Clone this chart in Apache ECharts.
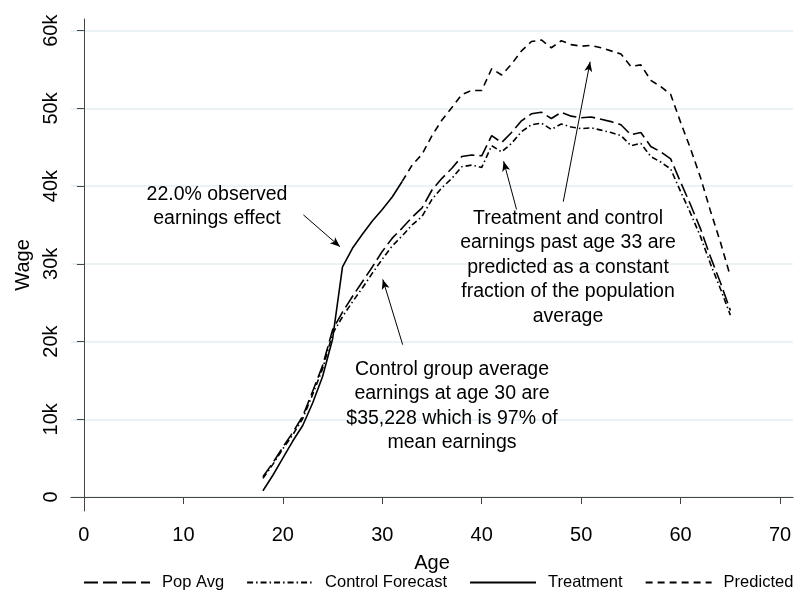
<!DOCTYPE html>
<html>
<head>
<meta charset="utf-8">
<script src="https://cdn.jsdelivr.net/npm/echarts@6/dist/echarts.min.js"></script>
<style>
  html, body { margin: 0; padding: 0; background: #fff; }
  #chart { width: 798px; height: 590px; }
</style>
</head>
<body>
<div id="chart"></div>
<script>
// ages on the x axis
const ages = [18, 19, 20, 21, 22, 23, 24, 25, 26, 27, 28, 29, 30, 31, 32, 33,
  34, 35, 36, 37, 38, 39, 40, 41, 42, 43, 44, 45, 46, 47, 48, 49, 50, 51, 52,
  53, 54, 55, 56, 57, 58, 59, 60, 61, 62, 63, 64, 65];

// wages in thousands
const popAvg = [2.6, 4.4, 6.4, 8.3, 10.4, 13.6, 16.9, 21.5, 23.8, 25.8, 27.7,
  29.6, 31.6, 33.3, 34.6, 36.0, 37.2, 39.5, 41.0, 42.3, 43.8, 44.0, 43.9, 46.5,
  45.6, 46.9, 48.4, 49.3, 49.5, 48.7, 49.5, 49.0, 48.8, 48.9, 48.6, 48.3, 47.9,
  46.6, 46.9, 45.1, 44.4, 43.5, 40.5, 37.6, 34.5, 30.9, 27.6, 24.0];

const controlForecast = [2.4, 4.2, 6.2, 8.0, 10.1, 13.2, 16.5, 21.0, 23.2, 25.1,
  26.9, 28.8, 30.6, 32.3, 33.6, 35.0, 36.1, 38.3, 39.8, 41.0, 42.5, 42.7, 42.4,
  45.2, 44.4, 45.5, 47.0, 47.9, 48.1, 47.3, 48.0, 47.6, 47.4, 47.5, 47.2, 46.9,
  46.5, 45.2, 45.5, 43.8, 43.1, 42.2, 39.3, 36.5, 33.5, 30.0, 26.8, 23.4];

// treatment observed ages 18-32
const treatmentAges = [18, 19, 20, 21, 22, 23, 24, 25, 26, 27, 28, 29, 30, 31, 32];
const treatment = [0.8, 2.8, 5.0, 7.2, 9.2, 12.1, 15.5, 20.3, 29.6, 32.0, 33.8,
  35.5, 37.0, 38.6, 40.6];

// predicted ages 32-65
const predictedAges = [32, 33, 34, 35, 36, 37, 38, 39, 40, 41, 42, 43, 44, 45,
  46, 47, 48, 49, 50, 51, 52, 53, 54, 55, 56, 57, 58, 59, 60, 61, 62, 63, 64, 65];
const predicted = [40.6, 42.7, 44.1, 46.5, 48.5, 50.1, 51.8, 52.3, 52.3, 55.1,
  54.3, 55.7, 57.4, 58.6, 58.8, 57.8, 58.7, 58.2, 58.0, 58.1, 57.8, 57.4, 57.0,
  55.4, 55.6, 53.6, 52.8, 51.8, 48.2, 44.8, 41.1, 36.8, 32.8, 28.4];

const xTicks = [0, 10, 20, 30, 40, 50, 60, 70];
const yTicks = [0, 10000, 20000, 30000, 40000, 50000, 60000];

const font = 'Liberation Sans, Arial, sans-serif';

function pairs(xs, ys) {
  return xs.map((x, i) => [x, ys[i] * 1000]);
}

// annotation arrows, in data coordinates [age, wage]
const arrows = [
  [[22.07, 36300], [25.75, 32200]],
  [[32.05, 19600], [30.05, 28000]],
  [[43.5, 37000], [42.2, 43200]],
  [[48.2, 38000], [50.9, 56000]]
];

function note(cx, top, text) {
  return {
    type: 'text', x: cx, y: top, z: 100,
    style: {
      text: text, align: 'center', verticalAlign: 'top',
      font: '19.5px ' + font, lineHeight: 24.5, fill: '#000'
    }
  };
}

const myChart = echarts.init(document.getElementById('chart'));

const option = {
  animation: false,
  backgroundColor: '#fff',
  grid: { left: 71, right: 5, top: 19, bottom: 79, containLabel: false },
  xAxis: {
    type: 'value',
    min: -1.3,
    max: 71.3,
    name: 'Age',
    nameLocation: 'middle',
    nameGap: 42,
    nameTextStyle: { fontFamily: font, fontSize: 20, color: '#000' },
    axisLine: { show: true, lineStyle: { color: '#444', width: 1 } },
    axisTick: { show: true, length: 7, customValues: xTicks, lineStyle: { color: '#444' } },
    axisLabel: { customValues: xTicks, margin: 14, fontFamily: font, fontSize: 20, color: '#000' },
    splitLine: { show: false }
  },
  yAxis: {
    type: 'value',
    min: -1800,
    max: 61500,
    name: 'Wage',
    nameLocation: 'middle',
    nameGap: 37,
    nameRotate: 90,
    nameTextStyle: { fontFamily: font, fontSize: 20, color: '#000' },
    axisLine: { show: true, lineStyle: { color: '#444', width: 1 } },
    axisTick: { show: true, length: 7, customValues: yTicks, lineStyle: { color: '#444' } },
    axisLabel: {
      customValues: yTicks,
      rotate: 90,
      margin: 10,
      fontFamily: font,
      fontSize: 20,
      color: '#000',
      formatter: v => (v === 0 ? '0' : v / 1000 + 'k')
    },
    splitLine: { show: true, lineStyle: { color: '#e4eef2', width: 1.5 } }
  },
  legend: {
    data: ['Pop Avg', 'Control Forecast', 'Treatment', 'Predicted'],
    left: 83,
    top: 574,
    width: 740,
    padding: 0,
    itemWidth: 66,
    itemHeight: 14,
    itemGap: 22,
    itemStyle: { opacity: 0 },
    textStyle: { fontFamily: font, fontSize: 16.5, color: '#000', padding: [0, 0, 0, 7] }
  },
  series: [
    {
      name: 'Pop Avg',
      type: 'line',
      data: pairs(ages, popAvg),
      symbol: 'none',
      color: '#000',
      lineStyle: { color: '#000', width: 1.6, type: [14, 5] },
      markLine: {
        silent: true,
        symbol: ['none', 'arrow'],
        symbolSize: [6, 10],
        label: { show: false },
        lineStyle: { color: '#000', width: 1, type: 'solid' },
        data: arrows.map(a => [{ coord: a[0] }, { coord: a[1] }])
      }
    },
    {
      name: 'Control Forecast',
      type: 'line',
      data: pairs(ages, controlForecast),
      symbol: 'none',
      color: '#000',
      lineStyle: { color: '#000', width: 1.6, type: [6, 3, 1.5, 3] }
    },
    {
      name: 'Treatment',
      type: 'line',
      data: pairs(treatmentAges, treatment),
      symbol: 'none',
      color: '#000',
      lineStyle: { color: '#000', width: 1.6, type: 'solid' }
    },
    {
      name: 'Predicted',
      type: 'line',
      data: pairs(predictedAges, predicted),
      symbol: 'none',
      color: '#000',
      lineStyle: { color: '#000', width: 1.6, type: [7, 5] }
    }
  ],
  graphic: [
    note(217, 182, '22.0% observed\nearnings effect'),
    note(568, 206, 'Treatment and control\nearnings past age 33 are\npredicted as a constant\nfraction of the population\naverage'),
    note(452, 357, 'Control group average\nearnings at age 30 are\n$35,228 which is 97% of\nmean earnings')
  ]
};

myChart.setOption(option);
</script>
</body>
</html>
